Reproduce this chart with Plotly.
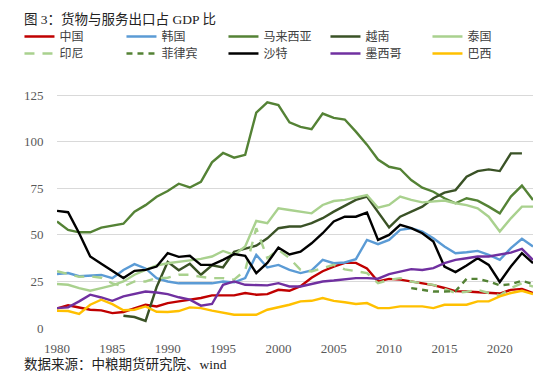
import plotly.graph_objects as go

years = list(range(1980, 2024))

china = [10.5, 12.2, 11.0, 9.8, 9.5, 8.0, 8.6, 10.7, 12.5, 11.6, 13.4, 14.3, 15.2, 16.1, 17.5, 17.5, 17.5, 18.8, 17.9, 18.2,
         20.5, 20.0, 22.5, 27.0, 30.5, 33.0, 35.0, 35.0, 32.0, 25.0, 26.4, 26.0, 25.0, 24.0, 23.0, 21.5, 19.8, 19.6, 19.3, 18.7,
         18.5, 20.5, 21.0, 18.8]
korea = [29.0, 29.5, 27.8, 28.0, 28.5, 26.8, 31.2, 34.3, 32.0, 26.8, 25.0, 24.0, 24.0, 24.0, 24.0, 25.0, 24.5, 26.8, 39.3, 32.5,
         33.9, 31.2, 29.5, 31.0, 36.6, 34.8, 35.2, 37.0, 47.3, 45.0, 47.3, 52.7, 53.6, 51.8, 48.2, 43.8, 40.2, 40.7, 41.4, 39.3,
         36.6, 42.9, 47.9, 43.8]
malaysia = [57.2, 52.7, 51.4, 51.4, 53.9, 55.0, 56.0, 62.5, 66.0, 70.5, 73.6, 77.5, 75.5, 78.5, 89.0, 94.0, 91.5, 93.0, 115.7, 121.2,
            119.7, 110.5, 108.0, 106.8, 115.2, 112.9, 112.0, 105.5, 98.5, 90.5, 86.6, 85.4, 79.5, 75.4, 73.2, 69.7, 67.0, 69.7, 68.4, 65.2,
            61.6, 70.6, 76.5, 68.8]
vietnam = [None, None, None, None, None, None, 6.6, 5.9, 3.8, 22.0, 35.5, 31.0, 34.5, 28.6, 33.7, 32.6, 41.0, 42.7, 44.2, 48.2,
           53.6, 54.5, 54.5, 56.3, 59.0, 62.5, 65.7, 68.8, 70.6, 62.0, 54.0, 59.8, 62.5, 65.2, 69.7, 72.7, 74.1, 81.3, 84.3, 85.2,
           84.3, 93.8, 93.8, None]
thailand = [23.6, 23.2, 21.4, 20.0, 21.4, 22.9, 25.0, 28.6, 31.2, 33.6, 34.8, 35.7, 36.3, 37.1, 38.4, 41.4, 39.3, 43.8, 57.5, 56.3,
            64.3, 63.4, 62.5, 61.6, 66.1, 68.2, 68.8, 70.0, 71.4, 64.6, 66.1, 70.6, 68.8, 67.5, 68.0, 68.5, 67.0, 66.0, 64.3, 59.8,
            51.8, 58.9, 65.2, 65.2]
indonesia = [30.5, 29.0, 27.5, 27.7, 27.0, 24.0, 22.3, 25.0, 25.0, 26.8, 27.0, 28.6, 28.6, 27.5, 26.8, 26.8, 26.0, 31.0, 53.6, 37.5,
             42.0, 37.5, 31.2, 30.4, 32.2, 33.9, 31.5, 30.4, 29.5, 24.1, 25.9, 26.8, 25.0, 24.0, 23.2, 21.0, 18.8, 19.5, 20.5, 18.8,
             17.5, 21.4, 24.1, 22.3]
philippines = [None] * 32 + [21.4, 20.5, 19.6, 19.6, 19.8, 26.4, 26.4, 25.0, 22.9, 23.5, 25.4, 23.6]
saudi = [62.9, 62.2, 50.9, 38.4, 34.5, 30.5, 26.8, 30.7, 31.2, 33.0, 40.2, 38.2, 38.8, 33.9, 33.9, 36.6, 39.7, 38.8, 29.5, 35.0,
         43.2, 39.5, 41.0, 45.5, 50.9, 57.2, 59.8, 59.8, 62.0, 47.3, 50.0, 55.4, 53.6, 50.9, 46.4, 33.0, 30.0, 33.6, 37.5, 33.9,
         24.7, 33.0, 40.2, 34.8]
mexico = [10.7, 11.1, 14.3, 17.9, 16.4, 14.6, 17.0, 18.2, 19.6, 19.1, 18.2, 16.5, 15.2, 12.0, 12.9, 23.2, 25.0, 23.2, 22.9, 22.9,
          24.1, 22.3, 22.3, 23.6, 25.0, 25.5, 26.3, 26.8, 26.8, 26.5, 28.9, 30.4, 31.6, 31.2, 32.2, 34.8, 36.6, 37.5, 38.4, 38.4,
          39.3, 40.5, 42.5, 36.6]
brazil = [9.3, 9.1, 7.6, 12.5, 15.2, 12.8, 9.5, 9.8, 11.6, 8.7, 8.6, 9.1, 11.1, 10.7, 9.3, 8.0, 7.1, 7.1, 7.1, 9.8,
          11.1, 12.5, 14.3, 14.6, 16.1, 14.6, 13.8, 12.9, 13.4, 10.7, 10.7, 11.6, 11.6, 11.6, 10.7, 12.5, 12.5, 12.5, 14.3, 14.3,
          17.0, 18.8, 20.0, 18.2]

series = [
    ("中国", china, "#C00000", "solid", "legend"),
    ("韩国", korea, "#5B9BD5", "solid", "legend"),
    ("马来西亚", malaysia, "#548235", "solid", "legend"),
    ("越南", vietnam, "#3A5226", "solid", "legend"),
    ("泰国", thailand, "#A9D18E", "solid", "legend"),
    ("印尼", indonesia, "#A9D18E", "10px,8px", "legend2"),
    ("菲律宾", philippines, "#548235", "6px,5px", "legend2"),
    ("沙特", saudi, "#000000", "solid", "legend2"),
    ("墨西哥", mexico, "#7030A0", "solid", "legend2"),
    ("巴西", brazil, "#FFC000", "solid", "legend2"),
]

fig = go.Figure()
for name, vals, color, dash, leg in series:
    fig.add_trace(go.Scatter(x=years, y=vals, name=name, mode="lines",
                             line=dict(color=color, width=2.4, dash=dash),
                             legend=leg, connectgaps=False))

font_main = "Liberation Serif, Noto Sans CJK SC"
leg_common = dict(orientation="h", xanchor="left", yanchor="top", entrywidth=57,
                  entrywidthmode="pixels", font=dict(family=font_main, size=12, color="#404040"),
                  bgcolor="rgba(0,0,0,0)", itemwidth=30, tracegroupgap=0)

leg_x = (5 - 43) / 482
fig.update_layout(
    width=550, height=375,
    margin=dict(l=43, r=25, t=86, b=55),
    plot_bgcolor="white", paper_bgcolor="white",
    showlegend=True,
    legend=dict(x=leg_x, y=(320 - 14) / 234, **leg_common),
    legend2=dict(x=leg_x, y=(320 - 31) / 234, **leg_common),
    xaxis=dict(range=[1980, 2023], tickmode="array", tickvals=[1980, 1985, 1990, 1995, 2000, 2005, 2010, 2015, 2020],
               showgrid=False, zeroline=False, showline=False,
               ticks="outside", ticklen=8, tickcolor="rgba(0,0,0,0)",
               tickfont=dict(family="Liberation Serif", size=13, color="#595959")),
    yaxis=dict(range=[0, 125.7], tickvals=[0, 25, 50, 75, 100, 125], showgrid=True, gridcolor="#D9D9D9", gridwidth=1,
               zeroline=False, showline=False,
               ticks="outside", ticklen=10, tickcolor="rgba(0,0,0,0)",
               tickfont=dict(family="Liberation Serif", size=13, color="#595959")),
    annotations=[
        dict(text="图 3：货物与服务出口占 GDP 比", xref="paper", yref="paper", x=(8 - 43) / 482, y=(320 - 11) / 234,
             xanchor="left", yanchor="middle", showarrow=False, font=dict(family=font_main, size=13.5, color="#222222")),
        dict(text="数据来源：中粮期货研究院、wind", xref="paper", yref="paper", x=(8 - 43) / 482, y=(320 - 356) / 234,
             xanchor="left", yanchor="middle", showarrow=False, font=dict(family=font_main, size=13.5, color="#222222")),
    ],
)

fig.write_html("out.html")
